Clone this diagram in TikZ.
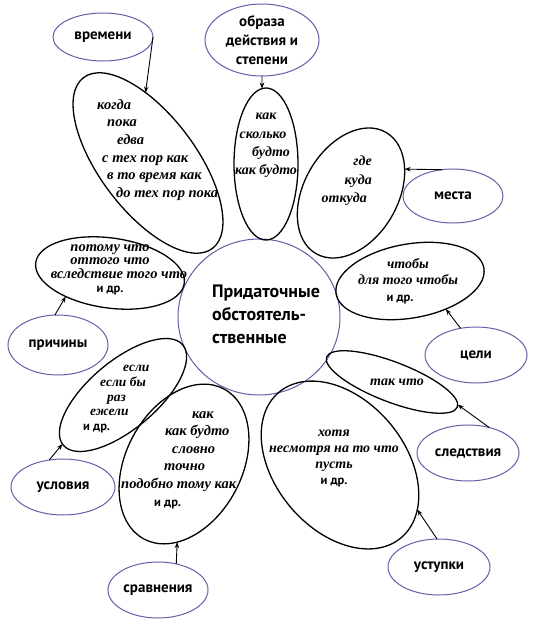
\documentclass[tikz,border=0pt]{standalone}
\usepackage{fontspec}
\setmainfont{Liberation Serif}
\setsansfont{PT Sans}
\usetikzlibrary{arrows.meta,shapes.geometric}
\definecolor{lblborder}{HTML}{6E5AA8}
\newcommand{\idr}{{\upshape\sffamily\bfseries\fontsize{12.5}{14}\selectfont и~др.}}

\begin{document}
\begin{tikzpicture}[
  x=1pt, y=-1pt,
  petal/.style={ellipse, draw, line width=1.3pt, inner sep=0pt, outer sep=0pt},
  casebox/.style={ellipse, draw=lblborder, line width=1pt, inner sep=0pt, outer sep=0pt,
                  align=center, font=\sffamily\bfseries\fontsize{15}{19}\selectfont},
  hub/.style={ellipse, draw=lblborder, line width=1pt, inner sep=0pt, outer sep=0pt},
  words/.style={inner sep=0pt, font=\bfseries\itshape\fontsize{14.5}{17.6}\selectfont},
  link/.style={-{Stealth[length=6pt,width=4.5pt]}, line width=0.9pt}
]
  \useasboundingbox[fill=white] (0,0) rectangle (537,627);

  % centre
  \node[hub, minimum width=162pt, minimum height=156pt] (hub) at (259,317) {};
  \node[inner sep=0pt, align=left, font=\sffamily\bfseries\fontsize{18}{23}\selectfont]
    (hubtxt) at (266,314) {Придаточные\\обстоятель-\\ственные};

  % petals
  \node[petal, minimum width=214pt, minimum height=96pt, rotate=-53] (pvrem) at (148,163) {};
  \node[petal, minimum width=152pt, minimum height=64pt, rotate=90] (pobr) at (266,164) {};
  \node[petal, minimum width=140pt, minimum height=94pt, rotate=60] (pmest) at (351,193) {};
  \node[petal, minimum width=150pt, minimum height=74pt, rotate=10] (pcel) at (410,281) {};
  \node[petal, minimum width=140pt, minimum height=40pt, rotate=-21] (ptak) at (392,382) {};
  \node[petal, minimum width=190pt, minimum height=130pt, rotate=-50] (phot) at (340,465) {};
  \node[petal, minimum width=170pt, minimum height=116pt, rotate=62] (pkak) at (184,464) {};
  \node[petal, minimum width=156pt, minimum height=68pt, rotate=40] (pesl) at (123,395) {};
  \node[petal, minimum width=150pt, minimum height=70pt, rotate=-8] (ppot) at (110,273) {};

  % petal words
  \node[words, align=left, anchor=north west] (wvrem) at (97,99)
    {когда\\\hspace*{10pt}пока\\\hspace*{20pt}едва\\\hspace*{5pt}с тех пор как\\
     \hspace*{10pt}в то время как\\\hspace*{19pt}до тех пор пока};
  \node[words, align=center, anchor=north, font=\bfseries\itshape\fontsize{14}{18.3}\selectfont] (wobr) at (266,113)
    {как\\\hspace*{-6pt}сколько\\\hspace*{10pt}будто\\как будто};
  \node[words, align=right, anchor=north east, font=\bfseries\itshape\fontsize{14}{18.5}\selectfont] (wmest) at (372,156)
    {где\\куда\hspace*{2pt}\\откуда\hspace*{5pt}};
  \node[words, align=center, anchor=north, font=\bfseries\itshape\fontsize{14}{16.5}\selectfont] (wcel) at (408,258)
    {чтобы\\для того чтобы\\\hspace*{-16pt}\idr};
  \node[words, font=\bfseries\itshape\fontsize{14}{16}\selectfont] (wtak) at (397,382) {так что};
  \node[words, align=center, anchor=north, font=\bfseries\itshape\fontsize{14}{16}\selectfont] (whot) at (334,430)
    {хотя\\несмотря на то что\\пусть\\\idr};
  \node[words, align=left, anchor=north west] (wkak) at (121,411)
    {\hspace*{71pt}как\\\hspace*{44pt}как будто\\\hspace*{51pt}словно\\\hspace*{43pt}точно\\
     подобно тому как\\\hspace*{33pt}\idr};
  \node[words, align=left, anchor=north west, font=\bfseries\itshape\fontsize{13.5}{14.8}\selectfont] (wesl) at (83,365)
    {\hspace*{40pt}если\\\hspace*{17pt}если бы\\\hspace*{24pt}раз\\\hspace*{7pt}ежели\\\idr};
  \node[words, align=center, anchor=north, font=\bfseries\itshape\fontsize{14.5}{13.8}\selectfont] (wpot) at (110,244)
    {потому что\\оттого что\\\hspace*{18pt}вследствие того что\\\idr};

  % kinds of clauses
  \node[casebox, minimum width=100pt, minimum height=48pt] (lvrem) at (103,37) {времени};
  \node[casebox, minimum width=114pt, minimum height=72pt] (lobr) at (262,40) {образа\\действия и\\степени};
  \node[casebox, minimum width=100pt, minimum height=54pt] (lmest) at (453,196) {места};
  \node[casebox, minimum width=102pt, minimum height=56pt] (lcel) at (476,355) {цели};
  \node[casebox, minimum width=102pt, minimum height=56pt] (lsled) at (468,453) {следствия};
  \node[casebox, minimum width=102pt, minimum height=56pt] (lust) at (439,567) {уступки};
  \node[casebox, minimum width=100pt, minimum height=56pt] (lsrav) at (158,590) {сравнения};
  \node[casebox, minimum width=104pt, minimum height=56pt] (lusl) at (63,487) {условия};
  \node[casebox, minimum width=100pt, minimum height=60pt] (lprich) at (58,345) {причины};

  % arrows
  \draw[link] (lvrem.east) -- (pvrem.145);
  \draw[link] (lobr.south) -- (pobr.3);
  \draw[link] (lmest.113) -- (pmest.324);
  \draw[link] (lcel.120) -- (pcel.312);
  \draw[link] (lsled.50) -- (ptak.2);
  \draw[link] (lust.94) -- (phot.20);
  \draw[link] (lsrav.55) -- (pkak.203);
  \draw[link] (lusl.117) -- (pesl.179);
  \draw[link] (lprich.96) -- (ppot.216);
\end{tikzpicture}
\end{document}
